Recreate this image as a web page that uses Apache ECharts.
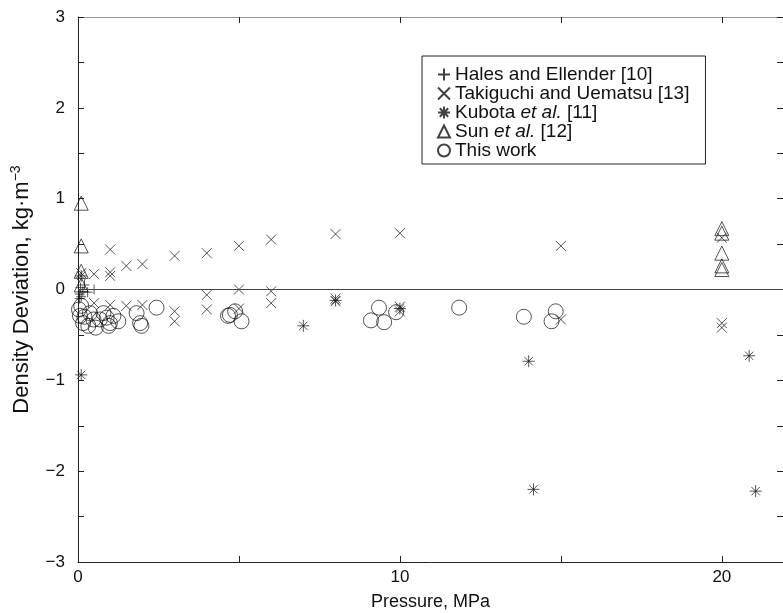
<!DOCTYPE html>
<html><head><meta charset="utf-8">
<script src="https://cdn.jsdelivr.net/npm/echarts@6/dist/echarts.min.js"></script>
<style>html,body{margin:0;padding:0;background:#fff}#c{width:783px;height:613px}</style>
</head><body><div id="c"></div>
<script>
var xTicks = [0, 10, 20];
var yTicks = [-3, -2, -1, 0, 1, 2, 3];
var seriesNames = ['Hales and Ellender [10]', 'Takiguchi and Uematsu [13]', 'Kubota et al. [11]', 'Sun et al. [12]', 'This work'];

var hales = [[0.05,-0.05],[0.1,-0.08],[0.15,-0.02],[0.08,0.02],[0.2,0.05],[0.3,-0.03],[0.5,0.0],[0.05,-0.1]];
var takiguchi = [
  [0.1,0.18],[0.5,0.17],[1.0,0.44],[1.0,0.19],[1.0,0.15],[1.5,0.26],[2.0,0.28],[3.0,0.37],[4.0,0.40],
  [5.0,0.48],[6.0,0.55],[8.0,0.61],[10.0,0.62],[15.0,0.48],[20.0,0.57],
  [0.5,-0.15],[1.0,-0.17],[1.5,-0.18],[2.0,-0.17],[3.0,-0.24],[3.0,-0.35],[4.0,-0.06],[4.0,-0.22],
  [5.0,0.0],[5.0,-0.21],[6.0,-0.02],[6.0,-0.15],[8.0,-0.10],[8.0,-0.13],[10.0,-0.19],[10.0,-0.24],
  [15.0,-0.33],[20.0,-0.37],[20.0,-0.42]
];
var kubota = [[0.1,0.15],[0.1,-0.94],[7.0,-0.40],[8.0,-0.12],[10.0,-0.21],[14.0,-0.79],[14.15,-2.2],[20.85,-0.73],[21.05,-2.22]];
var sun = [[0.1,0.95],[0.1,0.48],[0.1,0.2],[0.1,0.05],[20.0,0.67],[20.0,0.62],[20.0,0.40],[20.0,0.26],[20.0,0.22]];
var thisWork = [
  [0.03,-0.22],[0.06,-0.29],[0.1,-0.18],[0.16,-0.37],[0.2,-0.3],[0.32,-0.4],[0.37,-0.26],[0.48,-0.33],
  [0.55,-0.42],[0.68,-0.33],[0.79,-0.26],[0.89,-0.31],[0.95,-0.4],[0.99,-0.37],[1.1,-0.29],[1.25,-0.35],
  [1.82,-0.26],[1.93,-0.37],[1.97,-0.4],[2.44,-0.2],[4.66,-0.29],[4.72,-0.28],[4.88,-0.24],[5.08,-0.35],
  [9.1,-0.34],[9.35,-0.2],[9.51,-0.36],[9.88,-0.25],[11.84,-0.2],[13.85,-0.3],[14.71,-0.35],[14.84,-0.24]
];

var FONT = 'Liberation Sans, Arial, Helvetica, sans-serif';
var symPlus = 'path://M5 0L5 10M0 5L10 5';
var symCross = 'path://M0 0L10 10M10 0L0 10';
var symStar = 'path://M5 0L5 10M0 5L10 5M1.5 1.5L8.5 8.5M8.5 1.5L1.5 8.5';
var symTri = 'path://M5 0L10 10L0 10Z';
var symCirc = 'path://M10 5A5 5 0 1 1 0 5A5 5 0 1 1 10 5Z';

function sc(name, data, sym, size) {
  return {
    name: name, type: 'scatter', data: data, symbol: sym, symbolSize: size,
    itemStyle: {color: 'rgba(0,0,0,0)', borderColor: '#111', borderWidth: 0.9},
    emphasis: {disabled: true}, z: 3
  };
}

var chart = echarts.init(document.getElementById('c'), null, {renderer: 'canvas'});
var series = [
  sc(seriesNames[0], hales, symPlus, 10),
  sc(seriesNames[1], takiguchi, symCross, 10),
  sc(seriesNames[2], kubota, symStar, 12),
  sc(seriesNames[3], sun, symTri, 14),
  sc(seriesNames[4], thisWork, symCirc, 15)
];
series[0].markLine = {
  silent: true, symbol: 'none', label: {show: false},
  lineStyle: {color: '#444', width: 1.2, type: 'solid'},
  data: [{yAxis: 0}]
};

var axisCommon = {
  axisLine: {show: true, onZero: false, lineStyle: {color: '#222', width: 1}},
  axisTick: {show: true, inside: true, length: 6, lineStyle: {color: '#222'}},
  minorTick: {show: true, splitNumber: 2, length: 6, lineStyle: {color: '#222'}},
  splitLine: {show: false}
};

chart.setOption({
  animation: false,
  backgroundColor: '#fff',
  grid: {left: 78, top: 17, right: 0, bottom: 51, containLabel: false, outerBoundsMode: 'none'},
  xAxis: [
    Object.assign({
      type: 'value', min: 0, max: 21.9, interval: 10, position: 'bottom',
      name: 'Pressure, MPa', nameLocation: 'middle', nameGap: 31,
      nameTextStyle: {fontFamily: FONT, fontSize: 18, color: '#111'},
      axisLabel: {fontFamily: FONT, fontSize: 17, color: '#111', margin: 7,
        customValues: xTicks, formatter: function(v){return String(v);}}
    }, axisCommon),
    Object.assign({}, axisCommon, {
      type: 'value', min: 0, max: 21.9, interval: 10, position: 'top',
      axisLine: {show: true, onZero: false, lineStyle: {color: '#999', width: 1}},
      axisLabel: {show: false}
    })
  ],
  yAxis: [
    Object.assign({
      type: 'value', min: -3, max: 3, interval: 1,
      name: 'Density Deviation, kg·m{sup|−3}', nameLocation: 'middle', nameGap: 40,
      nameTextStyle: {fontFamily: FONT, fontSize: 22, color: '#111', lineHeight: 26,
        rich: {sup: {fontFamily: FONT, fontSize: 14, color: '#111', verticalAlign: 'top', lineHeight: 26}}},
      axisLabel: {fontFamily: FONT, fontSize: 17, color: '#111', margin: 13,
        formatter: function(v){return v < 0 ? '\u2212' + Math.abs(v) : String(v);}}
    }, axisCommon),
    Object.assign({}, axisCommon, {
      type: 'value', min: -3, max: 3, interval: 1, position: 'right',
      axisLine: {show: true, onZero: false, lineStyle: {color: '#999', width: 1}},
      axisLabel: {show: false}
    })
  ],
  legend: {
    data: seriesNames,
    orient: 'vertical', left: 422, top: 56,
    padding: [9, 16, 4, 15],
    itemWidth: 12, itemHeight: 12, itemGap: 0,
    backgroundColor: '#fff', borderColor: '#222', borderWidth: 1,
    selectedMode: false,
    textStyle: {fontFamily: FONT, fontSize: 19, color: '#111', lineHeight: 19,
      rich: {i: {fontFamily: FONT, fontSize: 19, fontStyle: 'italic', color: '#111', lineHeight: 19},
             n: {fontFamily: FONT, fontSize: 19, color: '#111', lineHeight: 19}}},
    formatter: function(name) {
      if (name.indexOf('et al.') >= 0) {
        var parts = name.split('et al.');
        return '{n|' + parts[0] + '}{i|et al.}{n|' + parts[1] + '}';
      }
      return name;
    }
  },
  series: series
});
</script></body></html>
